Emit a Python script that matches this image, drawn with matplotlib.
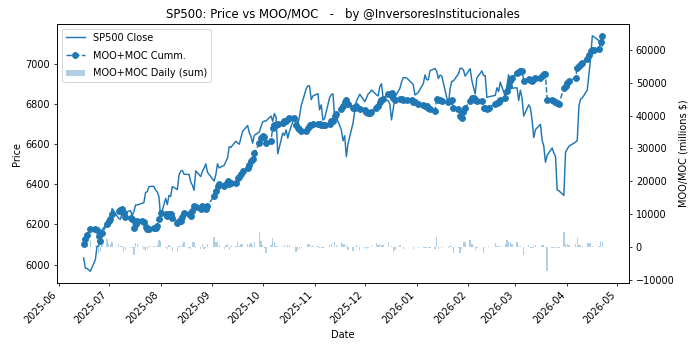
"""
SP500 close vs cumulative MOO+MOC imbalance, with daily MOO+MOC bars.
"""

import numpy as np
import pandas as pd
import matplotlib
matplotlib.use("Agg")
import matplotlib.pyplot as plt
import matplotlib.dates as mdates

# --- Data (trading days 2025-06-16 .. 2026-04-22) ---
market_holidays = ["2025-06-19", "2025-07-04", "2025-09-01", "2025-11-27", "2025-12-25",
                   "2026-01-01", "2026-01-19", "2026-02-16", "2026-04-03"]

sp500_close = [
    # 2025-06
    6033, 5982, 5981, 5967, 6025, 6092, 6092, 6141, 6173, 6205,
    # 2025-07
    6198, 6227, 6279, 6230, 6226, 6263, 6280, 6260, 6269, 6244, 6264, 6297, 6297, 6306,
    6309, 6359, 6363, 6389, 6390, 6371, 6362, 6339,
    # 2025-08
    6238, 6330, 6299, 6345, 6340, 6389, 6374, 6446, 6466, 6469, 6450, 6449, 6411, 6396,
    6370, 6467, 6439, 6466, 6481, 6502, 6460,
    # 2025-09
    6416, 6448, 6502, 6482, 6495, 6513, 6532, 6588, 6584, 6615, 6606, 6600, 6631, 6664,
    6693, 6657, 6638, 6605, 6644, 6661, 6688,
    # 2025-10
    6711, 6715, 6716, 6740, 6714, 6753, 6735, 6552, 6655, 6644, 6671, 6630, 6664, 6735,
    6735, 6699, 6738, 6792, 6875, 6891, 6890, 6822, 6840,
    # 2025-11
    6852, 6771, 6796, 6720, 6728, 6832, 6846, 6851, 6737, 6734, 6672, 6617, 6642, 6538,
    6603, 6705, 6766, 6813, 6849,
    # 2025-12
    6812, 6829, 6850, 6857, 6870, 6846, 6840, 6887, 6901, 6827, 6816, 6800, 6721, 6775,
    6835, 6878, 6910, 6932, 6930, 6906, 6896, 6845,
    # 2026-01
    6858, 6902, 6945, 6921, 6921, 6966, 6977, 6963, 6927, 6944, 6940, 6797, 6876, 6913,
    6915, 6950, 6978, 6978, 6969, 6939,
    # 2026-02
    6976, 6917, 6882, 6850, 6930, 6965, 6942, 6941, 6833, 6836, 6843, 6881, 6862, 6909,
    6837, 6890, 6946, 6908, 6879,
    # 2026-03
    6881, 6817, 6869, 6831, 6740, 6796, 6781, 6720, 6633, 6672, 6699, 6620, 6590, 6510,
    6545, 6581, 6556, 6540, 6372, 6368, 6345, 6560,
    # 2026-04
    6575, 6590, 6610, 6620, 6790, 6825, 6830, 6870, 6950, 7030, 7140, 7135, 7115, 7110, 7090,
]

moc_cumm = [
    # 2025-06
    1000, 2500, 3500, 5600, 5600, 5300, 3400, 1900, 4200, 7000,
    # 2025-07
    7800, 8600, 10100, 11000, 11300, 11600, 10200, 9200, 8900, 8600, 5900, 7000, 8000, 8000,
    7500, 6200, 5600, 5600, 5900, 5900, 6500, 8600,
    # 2025-08
    10400, 10000, 9500, 10100, 10100, 8900, 7400, 7800, 8000, 9000, 10400, 10100, 9500, 11000,
    12500, 12300, 11600, 12500, 11900, 11600, 12400,
    # 2025-09
    15600, 17100, 18600, 19200, 18600, 19200, 20200, 19200, 19600, 19600, 21000, 21400, 22300, 23200,
    24100, 25000, 26300, 26900, 28500, 31600, 33300,
    # 2025-10
    33900, 33500, 31700, 32400, 36300, 37000, 37200, 37500, 37800, 38400, 38400, 38900, 39400, 39400,
    37000, 36300, 35800, 35400, 35400, 36200, 37000, 37200, 37500,
    # 2025-11
    37500, 37500, 37200, 37000, 37000, 37500, 38400, 38400, 40000, 40600, 42100, 43000, 44000, 44600,
    43600, 42400, 42400, 43000, 42000,
    # 2025-12
    41800, 41200, 40900, 40900, 41200, 42400, 43000, 44000, 44600, 45100, 46700, 46700, 47000, 45500,
    44600, 45100, 45100, 44600, 44600, 44600, 44000, 44000,
    # 2026-01
    43600, 43300, 43000, 42800, 42400, 42100, 41500, 45200, 44600, 44600, 44300, 44000, 44300, 44600,
    42400, 42100, 40000, 39400, 41000, 42400,
    # 2026-02
    44500, 45300, 45500, 44600, 44300, 44300, 42400, 42200, 42100, 42400, 43600, 43800, 44200, 44600,
    45500, 47600, 49100, 50500, 51500,
    # 2026-03
    53000, 53300, 53600, 53600, 50600, 51200, 50900, 50600, 51000, 51500, 51500, 52100, 52700, 52700,
    44800, 44600, 44300, 44000, 43800, 43600, 48300, 49100,
    # 2026-04
    50000, 50600, 51500, 54600, 55200, 55800, 56100, 57300, 58500, 59800, 60000, 60000, 60300, 62300, 64300,
]

moc_daily = [
    # 2025-06
    1000, 1500, 1000, 2000, 300, -300, -1800, -1500, 2200, 2500,
    # 2025-07
    800, 800, 1500, 900, 300, 300, -1400, -1000, -300, -300, -2600, 1100, 1000, 200,
    -500, -1300, -600, 200, 300, 100, 600, 2000,
    # 2025-08
    1800, -400, -500, 600, 200, -1200, -1500, 400, 200, 1000, 1400, -300, -600, 1500,
    1500, -200, -700, 900, -600, -300, 800,
    # 2025-09
    3000, 1500, 1500, 600, -600, 600, 1000, -1000, 400, 200, 1400, 400, 900, 900,
    900, 900, 1300, 600, 1600, 4600, 1700,
    # 2025-10
    600, -400, -1800, 700, 2600, 1500, 200, 300, 300, 600, 100, 500, 500, 100,
    -1500, -1000, -700, -400, 100, 800, 800, 200, 300,
    # 2025-11
    200, -200, -300, -200, 100, 500, 900, 100, 1600, 600, 1500, 900, 1000, 600,
    -1000, -1200, 100, 600, -1000,
    # 2025-12
    -200, -600, -300, 100, 300, 1200, 600, 1000, 600, 500, 1600, 100, 300, -1500,
    -900, 500, 100, -500, 100, 100, -600, 100,
    # 2026-01
    -400, -300, -300, -200, -400, -300, -600, 3000, -600, 100, -300, -300, 300, 300,
    -1800, -300, -1800, -600, 1600, 1400,
    # 2026-02
    2100, 800, 200, -900, -300, 100, -1900, -200, -100, 300, 1200, 200, 400, 400,
    900, 2100, 1500, 1400, 1000,
    # 2026-03
    1500, 300, 300, 100, -2500, 600, -300, -300, 400, 500, 100, 600, 600, 100,
    -7400, -200, -300, -300, -200, -200, 4400, 800,
    # 2026-04
    900, 600, 900, 2800, 600, 600, 300, 1200, 1200, 1300, 300, 100, 300, 1800, 1600,
]

dates = pd.bdate_range("2025-06-16", "2026-04-22", freq="C", holidays=market_holidays)
assert len(dates) == len(sp500_close) == len(moc_cumm) == len(moc_daily), \
    (len(dates), len(sp500_close), len(moc_cumm), len(moc_daily))

color = "#1f77b4"

# 10x5 figure at 70 dpi -> 700x350
fig, ax = plt.subplots(figsize=(10, 5), dpi=70)
fig.subplots_adjust(left=0.0814, right=0.8986, bottom=0.1914, top=0.9314)

ax.plot(dates, sp500_close, color=color, lw=1.5, label="SP500 Close")
ax.set_ylabel("Price")
ax.set_xlabel("Date")

ax2 = ax.twinx()
ax2.bar(dates, moc_daily, width=0.8, color=color, alpha=0.35, label="MOO+MOC Daily (sum)")
ax2.plot(dates, moc_cumm, "--", marker="o", markersize=6, color=color, lw=1.5,
         label="MOO+MOC Cumm.")
ax2.set_ylabel("MOO/MOC (millions $)")

ax.xaxis.set_major_locator(mdates.MonthLocator())
ax.xaxis.set_major_formatter(mdates.DateFormatter("%Y-%m"))
plt.setp(ax.get_xticklabels(), rotation=45, ha="right")

ax.set_title("SP500: Price vs MOO/MOC   -   by @InversoresInstitucionales")

# Combined legend in the order: price, cumm, daily
h1, l1 = ax.get_legend_handles_labels()
h2, l2 = ax2.get_legend_handles_labels()
by_label = dict(zip(l1 + l2, h1 + h2))
order = ["SP500 Close", "MOO+MOC Cumm.", "MOO+MOC Daily (sum)"]
ax2.legend([by_label[k] for k in order], order, loc="upper left", labelspacing=0.8)

fig.savefig("out.png", dpi=70)
